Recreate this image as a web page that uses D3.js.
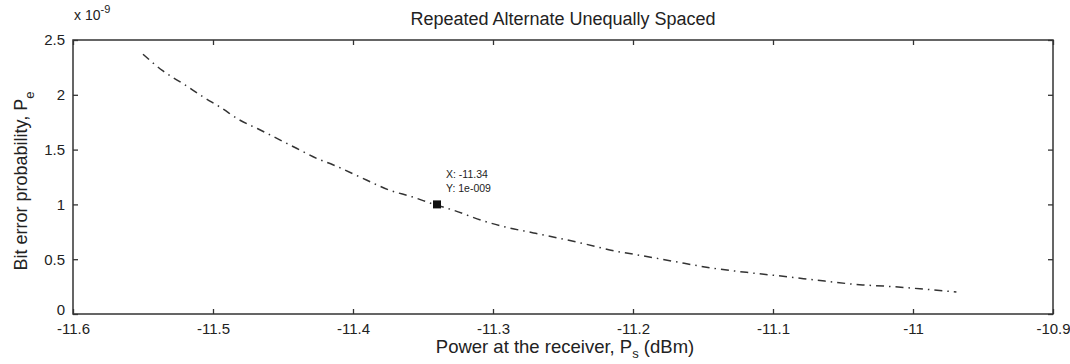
<!DOCTYPE html>
<html><head><meta charset="utf-8">
<script src="https://cdn.jsdelivr.net/npm/d3@7"></script>
<style>body{margin:0;background:#fff}svg{display:block}text{font-family:"Liberation Sans",Arial,sans-serif;fill:#222}</style>
</head><body><svg id="c" width="1070" height="364"></svg>
<script>
const powerDbm = [-11.55,-11.536,-11.52,-11.507,-11.494,-11.481,-11.468,-11.454,-11.44,-11.426,-11.414,-11.39,-11.374,-11.358,-11.342,-11.329,-11.307,-11.29,-11.271,-11.238,-11.211,-11.197,-11.171,-11.144,-11.119,-11.09,-11.063,-11.036,-11.021,-10.995,-10.969];
const bitErrorE9 = [2.37,2.22,2.09,1.98,1.88,1.77,1.69,1.60,1.51,1.42,1.36,1.22,1.13,1.07,1.0,0.95,0.85,0.79,0.74,0.65,0.57,0.54,0.48,0.42,0.38,0.34,0.30,0.265,0.255,0.23,0.20];
const xTicks = [-11.6,-11.5,-11.4,-11.3,-11.2,-11.1,-11,-10.9];
const yTicks = [0,0.5,1,1.5,2,2.5];
const tipX = [-11.34], tipY = [1.0];

const svg = d3.select('#c');
const L=73,R=1053,T=40,B=314;
const x = d3.scaleLinear().domain([-11.6,-10.9]).range([L,R]);
const y = d3.scaleLinear().domain([0,2.5]).range([B,T]);

const axColor='#333';
svg.append('rect').attr('x',L).attr('y',T).attr('width',R-L).attr('height',B-T)
  .attr('fill','none').attr('stroke',axColor).attr('stroke-width',1.5);

const gx = svg.append('g').attr('transform',`translate(0,${B})`)
  .call(d3.axisBottom(x).tickValues(xTicks).tickFormat(d=>String(d)).tickSize(-5).tickPadding(9));
const gxt = svg.append('g').attr('transform',`translate(0,${T})`)
  .call(d3.axisTop(x).tickValues(xTicks).tickFormat('').tickSize(-5));
const gy = svg.append('g').attr('transform',`translate(${L},0)`)
  .call(d3.axisLeft(y).tickValues(yTicks).tickFormat(d=>String(d)).tickSize(-5).tickPadding(8));
const gyr = svg.append('g').attr('transform',`translate(${R},0)`)
  .call(d3.axisRight(y).tickValues(yTicks).tickFormat('').tickSize(-5));
[gx,gxt,gy,gyr].forEach(g=>{
  g.select('.domain').remove();
  g.selectAll('line').attr('stroke',axColor).attr('stroke-width',1.3);
  g.selectAll('text').attr('font-size',15).attr('fill','#222').style('font-family','"Liberation Sans",Arial,sans-serif');
});
gy.selectAll('.tick').filter(d=>d===0).select('text').attr('dy','0.05em');

const ex = svg.append('text').attr('x',L+1).attr('y',T-20).attr('font-size',14);
ex.append('tspan').text('x 10');
ex.append('tspan').attr('dy',-7).attr('font-size',11).text('-9');

svg.append('text').attr('x',563).attr('y',25).attr('text-anchor','middle').attr('font-size',18)
  .text('Repeated Alternate Unequally Spaced');

const xl = svg.append('text').attr('x',565).attr('y',353).attr('text-anchor','middle').attr('font-size',18.5);
xl.append('tspan').text('Power at the receiver, P');
xl.append('tspan').attr('dy',5).attr('font-size',13).text('s');
xl.append('tspan').attr('dy',-5).text(' (dBm)');

const yl = svg.append('text').attr('transform',`translate(27,${(T+B)/2+4}) rotate(-90)`).attr('text-anchor','middle').attr('font-size',18);
yl.append('tspan').text('Bit error probability, P');
yl.append('tspan').attr('dy',7).attr('font-size',13).text('e');

const data = powerDbm.map((p,i)=>[p,bitErrorE9[i]]);
svg.append('path').datum(data)
  .attr('d',d3.line().x(d=>x(d[0])).y(d=>y(d[1])).curve(d3.curveMonotoneX))
  .attr('fill','none').attr('stroke','#333').attr('stroke-width',1.5)
  .attr('stroke-dasharray','8,5,1.5,5');

svg.append('rect').attr('x',x(tipX[0])-4).attr('y',y(tipY[0])-4).attr('width',8).attr('height',8).attr('fill','#111');
svg.append('text').attr('x',x(tipX[0])+9).attr('y',y(tipY[0])-26).attr('font-size',10.5).text('X: '+tipX[0]);
svg.append('text').attr('x',x(tipX[0])+9).attr('y',y(tipY[0])-12).attr('font-size',10.5).text('Y: 1e-009');
</script></body></html>
